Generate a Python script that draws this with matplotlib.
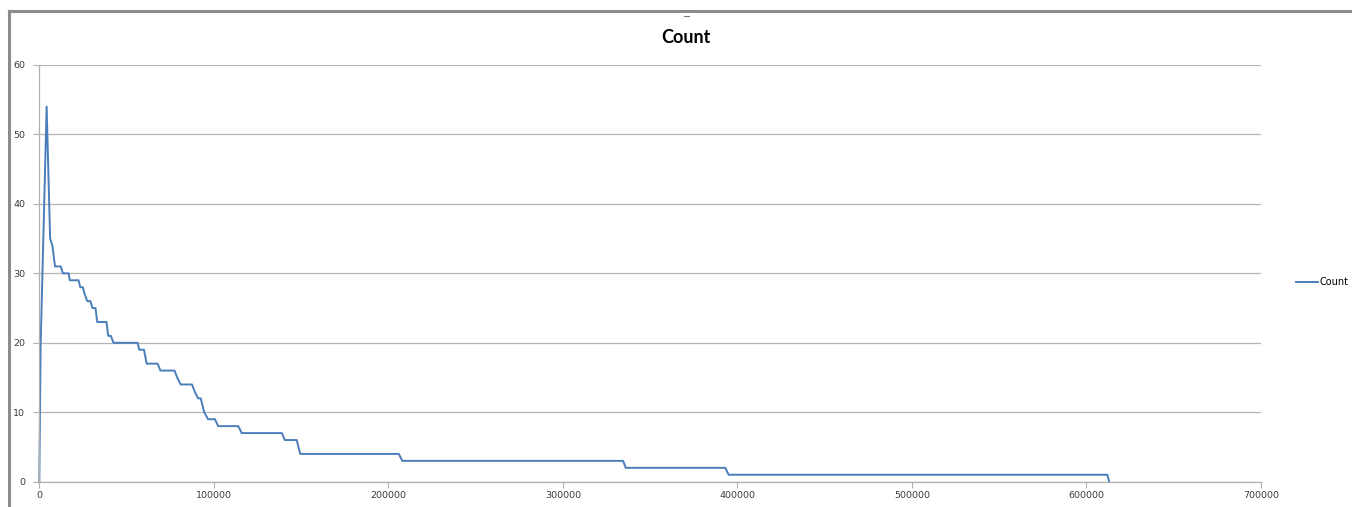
import numpy as np
import matplotlib
matplotlib.use("Agg")
import matplotlib.pyplot as plt
from matplotlib.lines import Line2D

# sorted counts: x position, count value
x_vals = [0, 800, 4200, 6200, 7500, 9000, 12300, 13500, 16800, 17500,
          22500, 23500, 25000, 26000, 27500, 29300, 30500, 32200, 33200,
          38500, 39500, 41000, 42500, 56300, 57300, 60000, 61500, 67800,
          69400, 77500, 79000, 81000, 87500, 89000, 91000, 92500, 94500,
          96700, 100600, 102500, 114000, 116000, 139000, 140700, 147500,
          149500, 206000, 208000, 334500, 336000, 393000, 395000, 612000,
          613000]
counts = [0, 20, 54, 35, 34, 31, 31, 30, 30, 29,
          29, 28, 28, 27, 26, 26, 25, 25, 23,
          23, 21, 21, 20, 20, 19, 19, 17, 17,
          16, 16, 15, 14, 14, 13, 12, 12, 10,
          9, 9, 8, 8, 7, 7, 6, 6,
          4, 4, 3, 3, 2, 2, 1, 1,
          0]
x_ticks = [0, 100000, 200000, 300000, 400000, 500000, 600000, 700000]
y_ticks = [0, 10, 20, 30, 40, 50, 60]

W, H = 1352, 507
fig = plt.figure(figsize=(W / 100, H / 100), dpi=100)
ax = fig.add_axes([39.3 / W, 1 - 481.7 / H, (1261 - 39.3) / W, (481.7 - 65) / H])

ax.plot(x_vals, counts, color="#4a7ebb", lw=1.4, label="Count", clip_on=False)

ax.set_xlim(0, 700000)
ax.set_ylim(0, 60)
ax.set_xticks(x_ticks)
ax.set_xticklabels([str(v) for v in x_ticks])
ax.set_yticks(y_ticks)
ax.tick_params(axis="both", labelsize=6.8, length=4,
               width=0.8, color="#b0b0b0", labelcolor="#3a3a3a", pad=3)
ax.tick_params(axis="y", pad=6)

ax.grid(axis="y", color="#b4b4b4", lw=0.9)
ax.set_axisbelow(True)
for side in ("top", "right"):
    ax.spines[side].set_visible(False)
for side in ("left", "bottom"):
    ax.spines[side].set_color("#b0b0b0")
    ax.spines[side].set_linewidth(0.9)

fig.text(686 / W, 1 - 38 / H, "Count", ha="center", va="center",
         fontsize=13, fontweight="bold", family=["Lato", "DejaVu Sans"])

ax.legend(loc="center left", bbox_to_anchor=(1296 / W, 1 - 282 / H),
          bbox_transform=fig.transFigure, frameon=False, fontsize=7,
          handlelength=2.3, handletextpad=0.15, borderpad=0, borderaxespad=0)

# chart frame edges
fig.add_artist(Line2D([9 / W, 1], [1 - 11 / H, 1 - 11 / H], color="#8c8c8c", lw=2.2))
fig.add_artist(Line2D([9 / W, 9 / W], [0, 1 - 11 / H], color="#8c8c8c", lw=2.2))
fig.add_artist(Line2D([684 / W, 689 / W], [1 - 16 / H, 1 - 16 / H], color="#777777", lw=0.8))

fig.savefig("out.png", dpi=100)
